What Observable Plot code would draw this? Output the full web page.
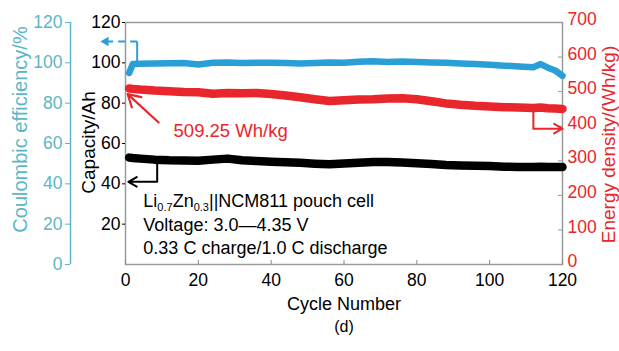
<!DOCTYPE html>
<html><head><meta charset="utf-8">
<script src="https://cdn.jsdelivr.net/npm/d3@7"></script>
<script src="https://cdn.jsdelivr.net/npm/@observablehq/plot@0.6"></script>
<style>body{margin:0;background:#fff} #chart svg{display:block}</style>
</head><body><div id="chart"></div>
<script>
const cycles    = [1,2,4,8,12,16,20,24,28,32,36,40,44,48,52,56,60,64,68,72,76,80,84,88,92,96,100,104,108,112,114,116,118,120];
const coulombic = [95.0,99.4,99.6,99.7,99.8,99.9,99.2,100.0,100.2,99.9,100.0,100.0,99.9,99.7,99.9,100.2,100.1,100.5,100.8,100.4,100.6,100.4,100.2,100.0,99.7,99.4,99.1,98.6,98.2,97.8,99.4,97.6,96.2,93.6];
const energy    = [509.25,508,506,503,501,499,498,494,496,495,496,493,489,484,478,473,475,477,478,480,481,478,472,466,462,459,457,455,454,453,454,452,451,450];
const capacity  = [53.0,52.8,52.5,52.0,51.7,51.6,51.5,52.0,52.5,51.7,51.3,51.0,50.7,50.4,50.0,49.7,50.1,50.5,50.8,50.8,50.6,50.2,49.8,49.3,49.1,49.0,48.8,48.5,48.4,48.4,48.5,48.3,48.3,48.3];

const xTicks = [0,20,40,60,80,100,120];
const capTicks = [20,40,60,80,100,120];
const ceTicks = [0,20,40,60,80,100,120];
const energyTicks = [0,100,200,300,400,500,600,700];
const infoLines = ["Li0.7Zn0.3||NCM811 pouch cell","Voltage: 3.0\u20144.35 V","0.33 C charge/1.0 C discharge"];
const energyLabel = "509.25 Wh/kg";

const K = 120/700; // energy density -> shared y scale
const rows = cycles.map((c,i)=>({cycle:c, ce:coulombic[i], cap:capacity[i], en:energy[i]*K}));

const CYAN="#2a9fd6", CYAN_AX="#5bb6c6", RED="#e8262b";

const plot = Plot.plot({
  width:619, height:351, marginLeft:125, marginRight:57, marginTop:22, marginBottom:87,
  style:{fontFamily:"'Liberation Sans', Arial, sans-serif", fontSize:"17px", background:"#fff", color:"#000"},
  x:{domain:[0,120], label:null},
  y:{domain:[0,120], label:null},
  marks:[
    Plot.frame({stroke:"#9a9a9a", strokeWidth:1.5}),
    // x axis
    Plot.axisX(xTicks, {tickSize:4, dy:-4, tickFormat:()=>"", stroke:"#888", label:null}),
    Plot.axisX(xTicks, {tickSize:0, tickPadding:9, fontSize:17.5, label:null}),
    // capacity axis (left, inner)
    Plot.axisY(capTicks, {anchor:"left", tickSize:3, tickPadding:2, fontSize:17.5, label:null}),
    // coulombic efficiency axis (left, outer)
    Plot.ruleX([0], {y1:0, y2:120, dx:-55, stroke:CYAN_AX, strokeWidth:1.5}),
    Plot.axisY(ceTicks, {anchor:"left", dx:-55, tickSize:5, tickPadding:3, color:CYAN_AX, fontSize:17.5, label:null}),
    // energy density axis (right)
    Plot.axisY(energyTicks.map(v=>v*K), {anchor:"right", tickSize:5, dx:-5, tickFormat:()=>"", stroke:"#999", label:null}),
    Plot.axisY(energyTicks.map(v=>v*K), {anchor:"right", tickSize:0, tickPadding:5, dy:-3, tickFormat:d=>Math.round(d/K), color:RED, fontSize:17.5, label:null}),
    // axis titles
    Plot.text(["Coulombic efficiency/%"], {frameAnchor:"left", dx:-105, dy:-14, rotate:-90, textAnchor:"middle", lineAnchor:"middle", fill:CYAN_AX, fontSize:20}),
    Plot.text(["Capacity/Ah"], {frameAnchor:"left", dx:-37, dy:-1, rotate:-90, textAnchor:"middle", lineAnchor:"middle", fontSize:19}),
    Plot.text(["Energy density/(Wh/kg)"], {frameAnchor:"right", dx:46, dy:1, rotate:-90, textAnchor:"middle", lineAnchor:"middle", fill:RED, fontSize:19}),
    Plot.text(["Cycle Number"], {frameAnchor:"bottom", dy:40, textAnchor:"middle", lineAnchor:"middle", fontSize:18}),
    Plot.text(["(d)"], {frameAnchor:"bottom", dy:62, textAnchor:"middle", lineAnchor:"middle", fontSize:16}),
    // data
    Plot.line(rows, {x:"cycle", y:"ce", stroke:CYAN, strokeWidth:6.5, strokeLinecap:"round", strokeLinejoin:"round"}),
    Plot.line(rows, {x:"cycle", y:"en", stroke:RED, strokeWidth:8.5, strokeLinecap:"round", strokeLinejoin:"round"}),
    Plot.line(rows, {x:"cycle", y:"cap", stroke:"#000", strokeWidth:8.5, strokeLinecap:"round", strokeLinejoin:"round"}),
    // CE bracket (dashed arrow to left axis)
    Plot.link([{x1:3.2,y1:110.6,x2:3.2,y2:100}], {x1:"x1",y1:"y1",x2:"x2",y2:"y2", stroke:CYAN, strokeWidth:2}),
    Plot.link([{x1:3.2,y1:110.6,x2:-5.6,y2:110.6}], {x1:"x1",y1:"y1",x2:"x2",y2:"y2", stroke:CYAN, strokeWidth:2, strokeDasharray:"7,5"}),
    Plot.dot([{x:-5.4,y:110.6}], {x:"x", y:"y", symbol:"triangle", r:3.5, rotate:-90, fill:CYAN, stroke:"none"}),
    // red pointer + label
    Plot.arrow([{x1:9.1,y1:70.4,x2:0.6,y2:84.5}], {x1:"x1",y1:"y1",x2:"x2",y2:"y2", stroke:RED, strokeWidth:2.2, headLength:10}),
    Plot.text([energyLabel], {x:13.2, y:66.0, textAnchor:"start", lineAnchor:"middle", fill:RED, fontSize:18.5}),
    // red bracket to right axis
    Plot.link([{x1:112,y1:452*K,x2:112,y2:393*K}], {x1:"x1",y1:"y1",x2:"x2",y2:"y2", stroke:RED, strokeWidth:2}),
    Plot.arrow([{x1:112,y1:393*K,x2:120,y2:393*K}], {x1:"x1",y1:"y1",x2:"x2",y2:"y2", stroke:RED, strokeWidth:2, headLength:9}),
    // black bracket to capacity axis
    Plot.link([{x1:8.7,y1:52,x2:8.7,y2:41}], {x1:"x1",y1:"y1",x2:"x2",y2:"y2", stroke:"#000", strokeWidth:2}),
    Plot.arrow([{x1:8.7,y1:41,x2:0.8,y2:41}], {x1:"x1",y1:"y1",x2:"x2",y2:"y2", stroke:"#000", strokeWidth:2, headLength:9}),
    // info text
    Plot.text(infoLines, {x:4.9, y:(d,i)=>31.2 - i*11.5, text:d=>d, textAnchor:"start", lineAnchor:"middle", fontSize:18})
  ]
});

// subscripts in the first info line
d3.select(plot).selectAll("text").filter(function(){return this.textContent===infoLines[0];}).each(function(){
  const t = d3.select(this); t.text(null);
  const parts = [["Li",0],["0.7",1],["Zn",0],["0.3",1],["||NCM811 pouch cell",0]];
  let cur = 0;
  for (const [s,sub] of parts){
    const ts = t.append("tspan").text(s);
    const target = sub ? 4 : 0;
    ts.attr("dy", target-cur); cur = target;
    if (sub) ts.attr("font-size", 11);
  }
});
document.getElementById("chart").appendChild(plot);
</script></body></html>
